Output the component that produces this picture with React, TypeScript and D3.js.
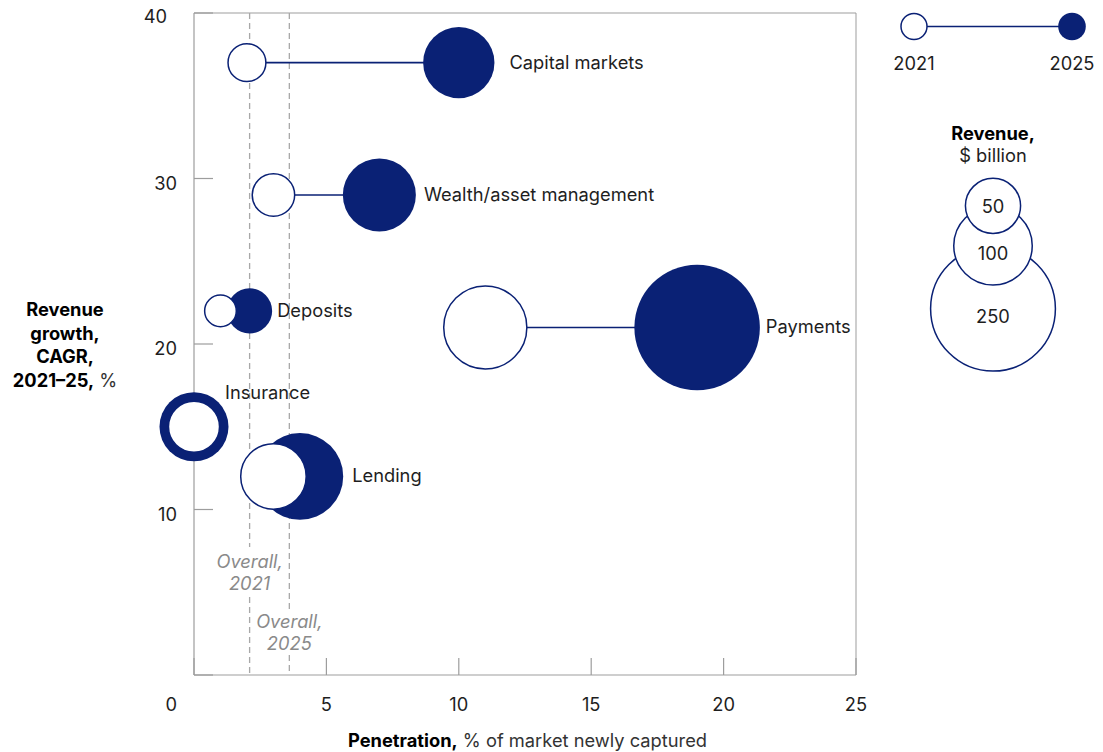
import React from "react";
import * as d3 from "d3";

const categories = ["Capital markets", "Wealth/asset management", "Deposits", "Payments", "Insurance", "Lending"];
const growth = [37, 29, 22, 21, 15, 12];
const pen2021 = [2.0, 3.0, 1.0, 11.0, 0, 3.0];
const pen2025 = [10.0, 7.0, 2.1, 19.0, 0, 4.0];
const rev2021 = [24, 30, 17, 112, 43, 70];
const rev2025 = [80, 84, 32, 248, 75, 118];

const xTicks = [0, 5, 10, 15, 20, 25];
const yTicks = [0, 10, 20, 30, 40];
const overallPen = [2.1, 3.6];
const overallYears = ["2021", "2025"];
const legendSizes = [250, 100, 50];

const W = 1103;
const H = 752;
const NAVY = "#0a2175";
const AXIS = "#9d9d9d";
const TXT = "#1e1e1e";
const FONT = "Inter, 'Noto Sans', sans-serif";
const FS = 18.3;

// label offsets (pixels) per category
const labelGap = [15, 8, 5, 6, 0, 9];

export default function App() {
  const x = d3.scaleLinear().domain([0, 25]).range([194, 856]);
  const y = d3.scaleLinear().domain([0, 40]).range([675, 13]);
  const r = d3.scaleSqrt().domain([0, 250]).range([0, 63]);

  const x0 = x(0), x1 = x(25), y0 = y(0), y1 = y(40);

  // overall label centres
  const overallLabelY = [572, 632];
  const overallGap = [25, 23];

  // legend
  const lgX = 993;
  const baseCy = 308.7;
  const legendCy: number[] = [];
  let cy = baseCy;
  legendSizes.forEach((v, i) => {
    if (i > 0) cy = cy - r(legendSizes[i - 1]);
    legendCy.push(cy);
  });
  const legendLabelDy = [7, 7, 0];

  return (
    <svg width={W} height={H} style={{ position: "absolute", left: 0, top: 0, background: "#fff" }} fontFamily={FONT}>
      <rect width={W} height={H} fill="#fff" />
      {/* frame */}
      <line x1={x0} x2={x1} y1={y1} y2={y1} stroke={AXIS} strokeWidth={1} />
      <line x1={x1} x2={x1} y1={y1} y2={y0} stroke={AXIS} strokeWidth={1} />
      <line x1={x0} x2={x1} y1={y0} y2={y0} stroke={AXIS} strokeWidth={1.2} />
      <line x1={x0} x2={x0} y1={y1} y2={y0} stroke={AXIS} strokeWidth={1.2} />

      {/* y ticks */}
      {yTicks.map((t) => (
        <g key={"y" + t}>
          <line x1={x0} x2={x0 + 19} y1={y(t)} y2={y(t)} stroke={AXIS} strokeWidth={1.2} />
          {t > 0 && (
            <text x={t === 40 ? 167 : 177} y={y(t) + (t === 40 ? 3 : 4)} textAnchor="end" dominantBaseline="central" fontSize={FS} fill={TXT}>
              {t}
            </text>
          )}
        </g>
      ))}
      {/* x ticks */}
      {xTicks.map((t) => (
        <g key={"x" + t}>
          <line x1={x(t)} x2={x(t)} y1={y0} y2={y0 - 17} stroke={AXIS} strokeWidth={1.2} />
          <text x={t === 0 ? 177 : x(t)} y={704} textAnchor={t === 0 ? "end" : "middle"} dominantBaseline="central" fontSize={FS} fill={TXT}>
            {t}
          </text>
        </g>
      ))}

      {/* overall dashed lines */}
      {overallPen.map((p, i) => (
        <g key={"ov" + i}>
          <line x1={x(p)} x2={x(p)} y1={y1} y2={overallLabelY[i] - overallGap[i]} stroke="#a8a8a8" strokeWidth={1.3} strokeDasharray="6 4" />
          <line x1={x(p)} x2={x(p)} y1={overallLabelY[i] + overallGap[i]} y2={y0} stroke="#a8a8a8" strokeWidth={1.3} strokeDasharray="6 4" />
          <text x={x(p)} y={overallLabelY[i] - 11} textAnchor="middle" dominantBaseline="central" fontSize={FS} fontStyle="italic" fill="#8a8a8a">
            Overall,
          </text>
          <text x={x(p)} y={overallLabelY[i] + 11} textAnchor="middle" dominantBaseline="central" fontSize={FS} fontStyle="italic" fill="#8a8a8a">
            {overallYears[i]}
          </text>
        </g>
      ))}

      {/* bubbles */}
      {categories.map((c, i) => {
        const yy = y(growth[i]);
        const xa = x(pen2021[i]);
        const xb = x(pen2025[i]);
        const rb = r(rev2025[i]);
        const ra = r(rev2021[i]);
        return (
          <g key={c}>
            <line x1={xa} x2={xb} y1={yy} y2={yy} stroke={NAVY} strokeWidth={1.6} />
            <circle cx={xb} cy={yy} r={rb} fill={NAVY} />
            <circle cx={xa} cy={yy} r={ra - 0.6} fill="#fff" stroke={NAVY} strokeWidth={1.5} />
          </g>
        );
      })}
      {/* labels */}
      {categories.map((c, i) => {
        const yy = y(growth[i]);
        const xb = x(pen2025[i]);
        const rb = r(rev2025[i]);
        if (c === "Insurance") {
          return (
            <text key={"l" + c} x={225} y={yy - 35} dominantBaseline="central" fontSize={FS} fill={TXT}>
              {c}
            </text>
          );
        }
        return (
          <text key={"l" + c} x={xb + rb + labelGap[i]} y={yy - 1} dominantBaseline="central" fontSize={FS} fill={TXT}>
            {c}
          </text>
        );
      })}

      {/* axis titles */}
      <text x={65} textAnchor="middle" fontSize={FS} fill="#000">
        <tspan x={65} y={316} fontWeight="bold">Revenue</tspan>
        <tspan x={65} y={339.5} fontWeight="bold">growth,</tspan>
        <tspan x={65} y={363} fontWeight="bold">CAGR,</tspan>
        <tspan x={65} y={386.5}>
          <tspan fontWeight="bold">2021–25,</tspan>
          <tspan fill="#333"> %</tspan>
        </tspan>
      </text>
      <text x={527.5} y={747} textAnchor="middle" fontSize={FS} fill="#000">
        <tspan fontWeight="bold">Penetration,</tspan>
        <tspan fill="#333"> % of market newly captured</tspan>
      </text>

      {/* legend top */}
      <line x1={914} x2={1072} y1={26.5} y2={26.5} stroke={NAVY} strokeWidth={1.6} />
      <circle cx={914} cy={26.5} r={13} fill="#fff" stroke={NAVY} strokeWidth={1.5} />
      <circle cx={1072} cy={26.5} r={13.8} fill={NAVY} />
      <text x={914} y={63} textAnchor="middle" dominantBaseline="central" fontSize={FS} fill={TXT}>2021</text>
      <text x={1072} y={63} textAnchor="middle" dominantBaseline="central" fontSize={FS} fill={TXT}>2025</text>

      {/* size legend */}
      <text x={lgX} y={133} textAnchor="middle" dominantBaseline="central" fontSize={FS} fontWeight="bold" fill="#000">Revenue,</text>
      <text x={lgX} y={155} textAnchor="middle" dominantBaseline="central" fontSize={FS} fill={TXT}>$ billion</text>
      {legendSizes.map((v, i) => (
        <circle key={"lc" + v} cx={lgX} cy={legendCy[i]} r={r(v) - 0.6} fill="#fff" stroke={NAVY} strokeWidth={1.5} />
      ))}
      {legendSizes.map((v, i) => (
        <text key={"lt" + v} x={lgX} y={legendCy[i] + legendLabelDy[i]} textAnchor="middle" dominantBaseline="central" fontSize={FS} fill={TXT}>
          {v}
        </text>
      ))}
    </svg>
  );
}
